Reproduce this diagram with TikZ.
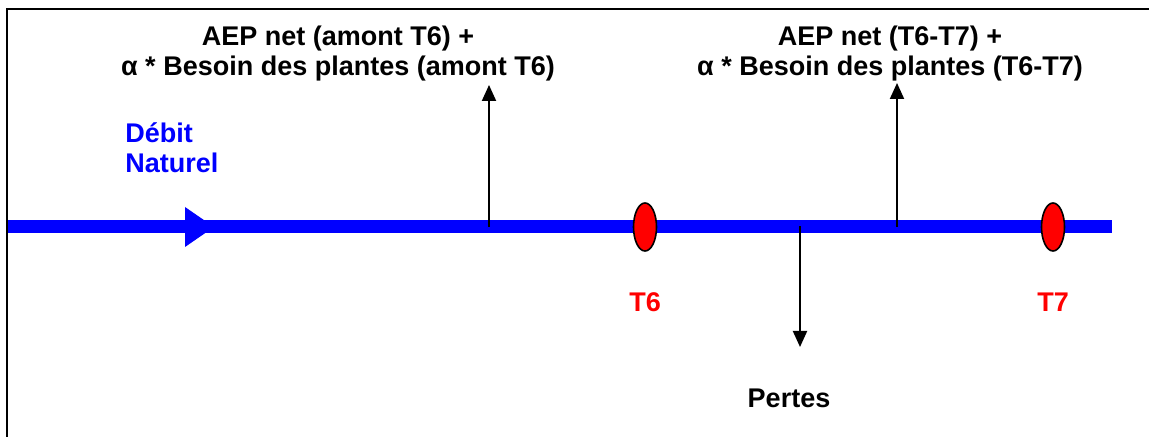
\documentclass[tikz,border=0pt]{standalone}
\usepackage{fontspec}
\setmainfont{Liberation Sans}
\usetikzlibrary{arrows.meta,shapes.geometric}
\definecolor{riverblue}{RGB}{0,0,255}
\definecolor{tred}{RGB}{255,0,0}
\begin{document}
\begin{tikzpicture}[x=0.5pt,y=-0.5pt,
  lbl/.style={font=\bfseries\fontsize{13.5}{15}\selectfont, inner sep=0pt, align=center},
  bluelbl/.style={lbl, text=riverblue, align=left},
  redlbl/.style={lbl, text=tred},
  station/.style={ellipse, draw=black, line width=0.8pt, fill=tred, minimum width=11.5pt, minimum height=24pt, inner sep=0pt},
  flow/.style={draw=black, line width=1pt, -{Triangle[width=7pt,length=8pt]}},
  river/.style={draw=riverblue, line width=6.5pt},
  frame/.style={draw=black, line width=1pt}]
\useasboundingbox (0,0) rectangle (1149,437);
% frame
\draw[frame] (7,437) -- (7,9) -- (1149,9);
% river
\coordinate (rs) at (8,227);
\coordinate (re) at (1112,227);
\draw[river] (rs) -- (re);
\fill[riverblue] (185,207) -- (214,227) -- (185,247) -- cycle;
% branch points
\coordinate (b1) at (489,227);
\coordinate (b1e) at (489,85);
\coordinate (b2) at (897,227);
\coordinate (b2e) at (897,83);
\coordinate (b3) at (800,226);
\coordinate (b3e) at (800,347);
\draw[flow] (b1) -- (b1e);
\draw[flow] (b2) -- (b2e);
\draw[flow] (b3) -- (b3e);
% stations
\node[station] (t6dot) at (645,227) {};
\node[station] (t7dot) at (1053,227) {};
% labels
\node[lbl] (l1) at (338,54) {AEP net (amont T6) +\\α * Besoin des plantes (amont T6)};
\node[lbl] (l2) at (890,54) {AEP net (T6-T7) +\\α * Besoin des plantes (T6-T7)};
\node[bluelbl, anchor=west] (dn) at (125,148) {Débit\\Naturel};
\node[redlbl] (t6) at (645,302) {T6};
\node[redlbl] (t7) at (1053,302) {T7};
\node[lbl] (pertes) at (789,398) {Pertes};
\end{tikzpicture}
\end{document}
